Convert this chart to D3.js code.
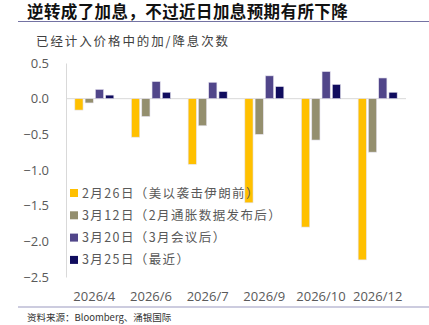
<!DOCTYPE html>
<html>
<head>
<meta charset="utf-8">
<style>
  body { margin: 0; background: #fff; }
  svg text { font-family: "Open Sans", "Noto Sans CJK SC", sans-serif; }
</style>
</head>
<body>
<div id="chart"></div>
<script src="https://d3js.org/d3.v7.min.js"></script>
<script>
const categories = ['2026/4', '2026/6', '2026/7', '2026/9', '2026/10', '2026/12'];
const seriesNames = ['2月26日（美以袭击伊朗前）', '3月12日（2月通胀数据发布后）', '3月20日（3月会议后）', '3月25日（最近）'];
const feb26 = [-0.16, -0.54, -0.92, -1.46, -1.80, -2.26];
const mar12 = [-0.06, -0.25, -0.38, -0.50, -0.58, -0.75];
const mar20 = [0.13, 0.24, 0.23, 0.32, 0.38, 0.29];
const mar25 = [0.05, 0.09, 0.10, 0.17, 0.20, 0.09];
const yTicks = [0.5, 0.0, -0.5, -1.0, -1.5, -2.0, -2.5];

const colors = ['#FFC000', '#948F6E', '#51468A', '#100C5E'];
const allSeries = [feb26, mar12, mar20, mar25];

const width = 429, height = 325;
const plot = { left: 66, right: 406, top: 63, bottom: 277 };

const svg = d3.select('#chart').append('svg')
  .attr('width', width)
  .attr('height', height);

// title and rule
svg.append('text')
  .attr('x', 27).attr('y', 18)
  .attr('font-size', 16.5).attr('font-weight', 'bold')
  .attr('letter-spacing', 0.4)
  .attr('fill', '#111')
  .style('font-family', '"Noto Sans CJK SC", sans-serif')
  .text('逆转成了加息，不过近日加息预期有所下降');
svg.append('line')
  .attr('x1', 18).attr('x2', width).attr('y1', 21.5).attr('y2', 21.5)
  .attr('stroke', '#7473a3').attr('stroke-width', 1.2);

svg.append('text')
  .attr('x', 36).attr('y', 46)
  .attr('font-size', 12.5).attr('letter-spacing', 1.9)
  .attr('fill', '#404040')
  .style('font-family', '"Noto Sans CJK SC", sans-serif')
  .text('已经计入价格中的加/降息次数');

const y = d3.scaleLinear().domain([-2.5, 0.5]).range([plot.bottom, plot.top]);
const x0 = d3.scaleBand().domain(categories).range([plot.left, plot.right]);
const x1 = d3.scaleBand().domain(d3.range(4))
  .range([7.8, x0.bandwidth() - 7.8]).paddingInner(0.2).paddingOuter(0.1);

// y axis
const yAxis = d3.axisLeft(y).tickValues(yTicks).tickFormat(d3.format('.1f')).tickSize(0).tickPadding(17);
const gy = svg.append('g').attr('transform', `translate(${plot.left},0)`).call(yAxis);
gy.select('.domain').attr('stroke', '#d9d9d9');
gy.selectAll('text').attr('font-size', 13).attr('fill', '#595959')
  .style('font-family', '"Open Sans", sans-serif');

// zero line
svg.append('line')
  .attr('x1', plot.left).attr('x2', plot.right)
  .attr('y1', y(0)).attr('y2', y(0))
  .attr('stroke', '#d9d9d9').attr('stroke-width', 1);

// bars
const groups = svg.selectAll('.grp')
  .data(categories)
  .join('g')
  .attr('class', 'grp')
  .attr('transform', d => `translate(${x0(d)},0)`);

groups.selectAll('rect')
  .data((c, i) => allSeries.map((s, k) => ({ k, v: s[i] })))
  .join('rect')
  .attr('x', d => x1(d.k))
  .attr('width', x1.bandwidth())
  .attr('y', d => y(Math.max(0, d.v)))
  .attr('height', d => Math.abs(y(d.v) - y(0)))
  .attr('fill', d => colors[d.k])
  .attr('stroke', '#e4e2ee')
  .attr('stroke-width', 0.6);

// category labels
svg.append('g').selectAll('text')
  .data(categories)
  .join('text')
  .attr('x', d => x0(d) + x0.bandwidth() / 2)
  .attr('y', 300.5)
  .attr('text-anchor', 'middle')
  .attr('font-size', 13)
  .attr('fill', '#595959')
  .text(d => d);

// legend
const legend = svg.append('g').attr('transform', 'translate(70,193)');
const items = legend.selectAll('g')
  .data(seriesNames)
  .join('g')
  .attr('transform', (d, i) => `translate(0,${i * 22.3})`);
items.append('rect')
  .attr('x', 0).attr('y', -4).attr('width', 8).attr('height', 8)
  .attr('fill', (d, i) => colors[i]);
items.append('text')
  .attr('x', 12).attr('y', 0).attr('dy', '0.36em')
  .attr('font-size', 12.5).attr('letter-spacing', 1.4)
  .attr('fill', '#595959')
  .style('font-family', '"Noto Sans CJK SC", sans-serif')
  .text(d => d);

// bottom rule and source
svg.append('line')
  .attr('x1', 18).attr('x2', width).attr('y1', 307).attr('y2', 307)
  .attr('stroke', '#9a99bf').attr('stroke-width', 1);
svg.append('text')
  .attr('x', 27).attr('y', 321)
  .attr('font-size', 9.5).attr('fill', '#333')
  .style('font-family', '"Noto Sans CJK SC", sans-serif')
  .text('资料来源：Bloomberg、涌银国际');
</script>
</body>
</html>
